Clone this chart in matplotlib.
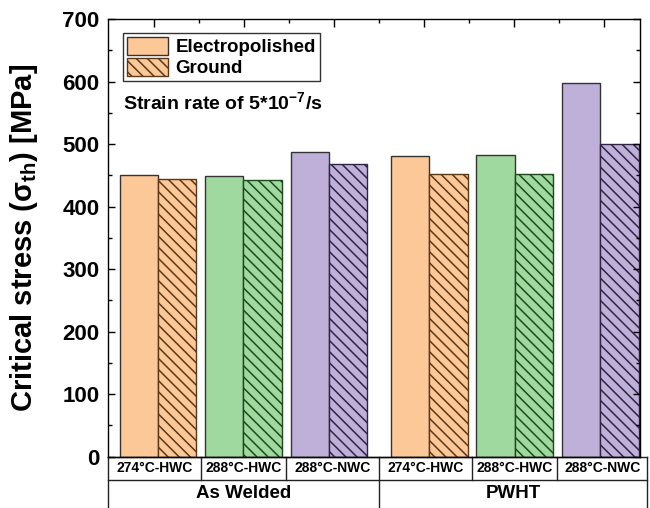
import numpy as np
import matplotlib
matplotlib.use("Agg")
import matplotlib.pyplot as plt
from matplotlib.patches import Patch
from matplotlib.ticker import MultipleLocator
import matplotlib.transforms as mtransforms

plt.rcParams['font.family'] = ['Liberation Sans', 'DejaVu Sans']
plt.rcParams['font.weight'] = 'bold'
plt.rcParams['mathtext.fontset'] = 'custom'
plt.rcParams['mathtext.rm'] = 'Liberation Sans'
plt.rcParams['mathtext.it'] = 'Liberation Sans:italic'
plt.rcParams['mathtext.bf'] = 'Liberation Sans:bold'
plt.rcParams['hatch.linewidth'] = 1.1

# data
conditions = ['274°C-HWC', '288°C-HWC', '288°C-NWC', '274°C-HWC', '288°C-HWC', '288°C-NWC']
groups = ['As Welded', 'PWHT']
electropolished = [451, 449, 488, 481, 482, 598]
ground = [444, 443, 468, 452, 452, 500]
fills = ['#fdc897', '#9fd99f', '#beb0d8'] * 2
darks = ['#5a3818', '#1d4a1d', '#2e2444'] * 2

# group centres (second treatment shifted by a small gap)
pos = np.array([1, 2, 3, 4.17, 5.17, 6.17])
w = 0.45
hatch = '\\\\\\'

fig = plt.figure(figsize=(6.5, 5.08), dpi=100)
ax_left, ax_right, ax_top, ax_bot = 108, 640, 19, 456.6
ax = fig.add_axes([ax_left / 650, (508 - ax_bot) / 508,
                   (ax_right - ax_left) / 650, (ax_bot - ax_top) / 508])

for i in range(len(pos)):
    ax.bar(pos[i] - w / 2, electropolished[i], w, color=fills[i],
           edgecolor='#333333', linewidth=1.0)
    ax.bar(pos[i] + w / 2, ground[i], w, color=fills[i],
           edgecolor=darks[i], linewidth=1.0, hatch=hatch)

xl0 = 1 - 50 / 85.5
xl1 = 1 + 482 / 85.5
ax.set_xlim(xl0, xl1)
ax.set_ylim(0, 700)

ax.yaxis.set_major_locator(MultipleLocator(100))
ax.yaxis.set_minor_locator(MultipleLocator(50))
ax.tick_params(axis='y', which='both', direction='in', left=True, right=True,
               labelsize=16, width=1.0, pad=6)
ax.tick_params(axis='y', which='major', length=5)
ax.tick_params(axis='y', which='minor', length=3)

# top ticks only
top_major = xl0 + np.arange(46, 532, 90) / 85.5
top_minor = xl0 + np.arange(91, 532, 90) / 85.5
ax.set_xticks(top_major)
ax.set_xticks(top_minor, minor=True)
ax.tick_params(axis='x', which='both', direction='in', bottom=False, top=True,
               labelbottom=False, labeltop=False, width=1.0)
ax.tick_params(axis='x', which='major', length=6)
ax.tick_params(axis='x', which='minor', length=3)
for lab in ax.get_yticklabels():
    lab.set_fontweight('bold')
for s in ax.spines.values():
    s.set_linewidth(1.0)

ax.set_ylabel(r'Critical stress ($\mathrm{σ_{th}}$) [MPa]', fontsize=21,
              fontweight='bold', labelpad=16)

handles = [Patch(facecolor=fills[0], edgecolor='#333333', label='Electropolished'),
           Patch(facecolor=fills[0], edgecolor=darks[0], hatch=hatch, label='Ground')]
leg = ax.legend(handles=handles, loc='upper left', bbox_to_anchor=(0.028, 0.968),
                prop={'size': 13.5, 'weight': 'bold'}, frameon=True, fancybox=False,
                edgecolor='#333333', framealpha=1, borderpad=0.2,
                handlelength=2.2, handleheight=1.1, labelspacing=0.1,
                handletextpad=0.4, borderaxespad=0)
leg.get_frame().set_linewidth(1.0)

ax.text(0.028, 0.81, r'Strain rate of 5*10$^{\mathbf{-7}}$/s', transform=ax.transAxes,
        fontsize=14, fontweight='bold', ha='left', va='center')

# category table below the axis
trans = mtransforms.blended_transform_factory(ax.transData, ax.transAxes)
h_px = ax_bot - ax_top
y_row = -(480 - ax_bot) / h_px
y_end = -(508 - ax_bot) / h_px
x_end = pos[-1] + 0.55
line_kw = dict(color='#222222', lw=1.0, transform=trans, clip_on=False)
ax.plot([xl0, x_end], [0, 0], **line_kw)
ax.plot([xl0, x_end], [y_row, y_row], **line_kw)
edges = [xl0] + list((pos[:-1] + pos[1:]) / 2) + [x_end]
for k, xe in enumerate(edges):
    bottom = y_end if k in (0, 3, 6) else y_row
    ax.plot([xe, xe], [0, bottom], **line_kw)
for k in range(len(pos)):
    ax.text((edges[k] + edges[k + 1]) / 2, y_row / 2, conditions[k], transform=trans,
            ha='center', va='center', fontsize=10, fontweight='bold')
ax.text((edges[0] + edges[3]) / 2, (y_row + y_end) / 2, groups[0], transform=trans,
        ha='center', va='center', fontsize=13.5, fontweight='bold')
ax.text((edges[3] + edges[6]) / 2, (y_row + y_end) / 2, groups[1], transform=trans,
        ha='center', va='center', fontsize=13.5, fontweight='bold')

fig.savefig('out.png', dpi=100)
